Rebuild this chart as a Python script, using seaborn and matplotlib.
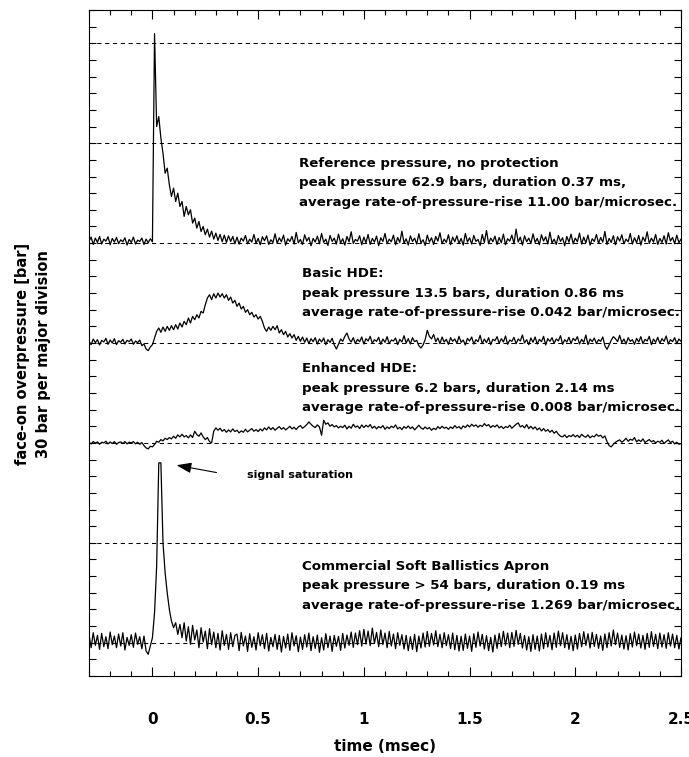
import numpy as np
import pandas as pd
import matplotlib
matplotlib.use("Agg")
import matplotlib.pyplot as plt
import seaborn as sns

# ---------------- data (bar above each trace's own baseline) ----------------
t_start, t_step, n_samples = -0.30, 0.01, 281   # time axis in ms

reference = [
    0.5, 1.8, -0.4, 1.5, 0.2, 2.0, -0.3, 1.2, 0.6, 1.9,
    -0.5, 1.4, 0.3, 1.7, -0.2, 1.0, 0.4, 1.6, -0.6, 1.1,
    0.2, 1.8, -0.3, 0.9, 0.5, 1.5, -0.4, 1.2, 0.1, 1.3,
    0.4, 62.9, 35.0, 38.0, 31.5, 27.0, 21.0, 22.5, 17.5, 14.0,
    16.5, 12.5, 15.0, 11.0, 12.5, 8.0, 11.0, 8.5, 10.0, 6.0,
    7.5, 4.5, 6.5, 3.5, 5.0, 2.5, 4.2, 1.8, 3.6, 1.2,
    3.0, 0.8, 2.6, 0.4, 2.4, 0.2, 2.2, 0.5, 2.0, -0.2,
    1.8, -0.3, 1.5, 0.6, 2.3, -0.2, 1.2, 0.3, 2.6, 0.0,
    1.4, -0.5, 1.9, 0.7, 2.2, -0.4, 1.0, 0.2, 2.8, -0.1,
    1.6, 0.4, 2.4, -0.6, 1.3, 0.5, 2.0, -0.3, 3.2, 0.1,
    1.1, -0.4, 2.5, 0.6, 1.7, -0.8, 1.4, 0.3, 2.1, -0.2,
    2.9, 0.2, 1.2, -0.7, 2.3, 0.5, 1.5, -0.3, 2.7, 0.0,
    1.3, -0.6, 2.0, 0.4, 3.4, -0.1, 1.1, 0.6, 2.2, -0.5,
    1.8, 0.1, 2.6, -0.4, 1.4, 0.3, 2.1, -0.8, 1.6, 0.5,
    2.9, -0.2, 1.2, 0.4, 2.4, -0.5, 1.7, 0.2, 3.6, 0.0,
    1.3, -0.6, 2.2, 0.5, 1.5, -0.3, 2.8, 0.1, 1.0, -0.7,
    2.4, 0.3, 1.6, -0.4, 2.0, 0.6, 3.1, -0.2, 1.2, 0.2,
    2.5, -0.5, 1.8, 0.4, 2.2, -0.1, 1.4, -0.6, 2.9, 0.3,
    1.6, -0.3, 2.3, 0.5, 1.1, -0.7, 2.6, 0.2, 3.8, -0.2,
    1.5, 0.4, 2.1, -0.4, 1.7, 0.1, 2.7, -0.5, 1.3, 0.6,
    2.4, -0.2, 4.2, 0.3, 1.8, -0.6, 2.2, 0.4, 1.5, -0.1,
    2.8, 0.2, 1.4, -0.5, 2.5, 0.6, 1.9, -0.3, 3.3, 0.0,
    1.2, -0.4, 2.3, 0.5, 1.6, -0.8, 2.0, 0.3, 2.7, -0.2,
    1.5, 0.4, 3.0, -0.3, 1.8, 0.1, 2.4, -0.6, 1.3, 0.5,
    2.6, -0.1, 1.7, 0.3, 3.5, -0.4, 1.4, 0.2, 2.2, -0.5,
    1.9, 0.6, 2.5, -0.2, 1.2, 0.4, 2.9, -0.3, 1.6, 0.1,
    2.3, -0.6, 1.8, 0.5, 3.4, -0.1, 1.5, 0.3, 2.6, -0.4,
    1.4, 0.2, 2.2, -0.3, 3.1, 0.6, 1.7, -0.2, 2.4, 0.1,
    1.2,
]

basic_hde = [
    0.6, -0.5, 1.2, 0.1, 1.0, -0.6, 0.8, 0.3, 1.4, -0.4,
    0.9, 0.0, 1.3, -0.5, 0.7, 0.2, 1.1, -0.3, 0.8, 0.4,
    1.2, -0.4, 0.6, 0.1, 0.9, -0.8, -0.3, -1.8, -2.3, -1.2,
    -0.5, 1.5, 3.5, 4.5, 3.2, 4.8, 3.5, 5.0, 3.8, 5.2,
    4.0, 5.5, 4.2, 6.0, 4.8, 6.5, 5.5, 7.5, 6.0, 8.0,
    7.0, 8.5, 7.5, 9.5, 9.0, 11.5, 13.5, 14.5, 13.0, 14.8,
    13.5, 15.0, 13.8, 14.8, 13.5, 14.5, 12.8, 13.8, 12.0, 12.8,
    11.0, 12.0, 10.2, 11.0, 9.2, 10.0, 8.5, 9.2, 7.8, 8.5,
    7.2, 8.0, 6.5, 4.5, 3.5, 4.8, 3.8, 5.0, 4.0, 5.2,
    3.0, 4.0, 2.5, 3.5, 1.8, 2.8, 1.5, 2.5, 0.8, 2.0,
    0.5, 1.8, 0.2, 1.5, -0.2, 1.3, 0.4, 1.6, -0.3, 1.2,
    0.3, 1.5, -0.5, 1.0, 0.2, 1.4, -0.6, -1.8, -0.4, 1.2,
    0.5, 2.0, 3.0, 1.2, 0.3, 1.6, -0.2, 1.1, 0.4, 1.8,
    -0.3, 1.3, 0.6, 2.0, -0.1, 1.0, 0.5, 1.7, -0.4, 1.2,
    0.2, 1.9, -0.2, 0.9, 0.6, 1.5, -0.5, 1.1, 0.3, 2.2,
    0.0, 1.3, -0.3, 1.6, 0.4, 0.8, -0.8, -1.5, -0.6, 1.0,
    3.8, 2.0, 1.2, 2.6, 0.4, 1.5, -0.2, 1.8, 0.3, 1.1,
    -0.4, 1.6, 0.5, 1.2, -0.1, 2.0, 0.2, 0.9, -0.6, 1.4,
    0.6, 1.8, -0.3, 1.0, 0.4, 2.3, -0.2, 1.2, 0.1, 1.6,
    -0.5, 1.1, 0.7, 1.9, -0.1, 1.3, 0.3, 2.1, -0.4, 0.9,
    0.5, 1.7, -0.2, 1.2, 0.6, 2.4, 0.0, 1.0, -0.5, 1.5,
    0.2, 1.8, -0.3, 1.1, 0.4, 2.0, -0.6, 1.3, 0.5, 1.6,
    -0.1, 1.2, 0.6, 2.2, -0.4, 1.0, 0.3, 1.7, -0.2, 1.4,
    0.7, 1.9, -0.3, 1.1, 0.2, 2.4, -0.5, 1.2, 0.4, 1.5,
    -0.2, 1.0, 0.5, 1.8, -0.8, -1.9, -0.6, 0.8, 1.9, 1.3,
    0.4, 2.3, 0.1, 1.2, -0.3, 1.6, 0.5, 1.0, -0.4, 1.4,
    0.3, 1.9, -0.2, 1.1, 0.6, 2.0, -0.5, 1.2, 0.2, 1.7,
    -0.1, 1.3, 0.5, 2.1, -0.3, 1.0, 0.4, 1.6, -0.2, 1.2,
    0.5,
]

enhanced_hde = [
    0.2, -0.3, 0.4, -0.1, 0.3, -0.4, 0.2, 0.0, 0.5, -0.3,
    0.3, -0.2, 0.4, -0.4, 0.1, 0.3, -0.2, 0.4, -0.3, 0.2,
    0.0, 0.4, -0.3, 0.2, -0.4, 0.1, -0.8, -1.5, -1.8, -1.0,
    -1.2, -0.5, 0.5, 0.2, 1.0, 0.6, 1.4, 1.0, 1.6, 1.2,
    2.0, 1.4, 2.4, 1.8, 2.6, 1.8, 2.2, 1.5, 2.4, 1.6,
    3.5, 2.5, 2.0, 3.0, 1.8, 1.0, 1.6, 0.4, 0.0, 3.5,
    4.5, 3.8, 4.4, 3.5, 4.0, 3.2, 3.9, 3.3, 4.2, 3.4,
    3.8, 3.0, 3.6, 3.2, 4.1, 3.3, 3.8, 4.3, 3.5, 4.0,
    3.4, 4.2, 3.6, 4.5, 3.9, 4.8, 4.0, 4.6, 3.8, 4.4,
    4.9, 4.1, 4.6, 3.9, 4.4, 5.0, 4.2, 4.7, 4.0, 4.8,
    5.2, 4.4, 4.9, 5.5, 6.3, 5.6, 5.0, 4.6, 5.4, 4.8,
    2.3, 6.8, 5.6, 6.0, 5.0, 5.5, 4.8, 5.2, 4.5, 5.0,
    4.6, 5.3, 4.2, 5.0, 4.4, 5.6, 4.7, 5.1, 4.3, 5.4,
    4.6, 5.3, 4.8, 5.5, 4.4, 5.0, 4.2, 4.9, 4.5, 5.2,
    4.1, 4.8, 4.3, 5.0, 4.6, 5.4, 4.2, 4.7, 4.0, 4.9,
    4.4, 5.1, 4.3, 4.8, 3.9, 4.6, 5.3, 4.5, 4.1, 4.8,
    4.2, 4.6, 3.8, 4.4, 4.0, 4.9, 4.3, 5.0, 4.4, 4.7,
    4.1, 4.8, 4.3, 5.2, 4.5, 4.9, 4.2, 5.1, 4.6, 5.4,
    4.8, 5.6, 5.0, 5.4, 4.7, 5.3, 4.9, 5.8, 5.1, 5.5,
    4.6, 5.2, 4.8, 5.4, 4.5, 5.0, 4.3, 4.9, 4.6, 5.3,
    4.4, 5.0, 5.6, 6.0, 4.8, 5.2, 4.5, 5.5, 4.3, 5.0,
    4.2, 4.8, 3.9, 4.5, 3.6, 4.3, 3.5, 4.0, 3.2, 3.8,
    2.9, 3.5, 2.6, 2.0, 1.8, 2.4, 1.6, 2.2, 1.9, 2.5,
    1.8, 2.3, 1.6, 2.6, 2.0, 1.7, 2.4, 1.5, 2.1, 1.8,
    2.6, 2.0, 2.3, 1.5, 2.1, 0.4, -0.8, -1.2, -0.4, 0.2,
    0.6, 0.9, 0.2, 0.7, 1.4, 0.5, 1.1, 0.8, 1.6, 0.3,
    0.9, 0.4, 1.2, 0.1, 0.6, 1.0, 0.3, 0.7, 0.0, 0.5,
    0.2, 0.8, -0.2, 0.4, 0.9, 0.1, 0.5, -0.3, 0.2, -0.4,
    -0.2,
]

commercial_apron = [
    2.5, -1.5, 3.0, -0.8, 2.2, -2.0, 2.8, -1.2, 1.8, -1.8,
    3.2, -0.6, 2.0, -1.5, 2.6, -1.0, 3.0, -2.2, 1.6, -0.8,
    2.4, -1.4, 2.9, -0.5, 1.8, -1.8, 2.0, -2.5, -3.5, -1.0,
    1.5, 9.0, 23.0, 54.0, 54.0, 30.0, 21.0, 15.0, 10.0, 6.5,
    4.5, 6.0, 2.5, 5.5, 1.5, 6.0, 0.5, 4.8, -0.5, 5.2,
    0.8, 3.8, -1.5, 4.5, 0.2, 3.5, -1.8, 4.2, -0.6, 3.2,
    -1.5, 2.8, -2.2, 3.6, -0.8, 2.5, -2.0, 3.0, -1.2, 2.2,
    2.6, -2.4, 3.1, -1.0, 2.0, -2.6, 2.7, -1.4, 1.8, -2.2,
    3.0, -0.9, 2.4, -1.8, 2.8, -2.5, 1.6, -1.2, 2.5, -2.0,
    2.2, -2.8, 1.9, -1.6, 2.6, -2.3, 3.0, -1.0, 2.1, -2.7,
    1.7, -2.0, 2.4, -1.3, 2.9, -2.4, 1.8, -1.7, 2.3, -2.9,
    1.5, -2.2, 2.7, -1.5, 2.0, -2.6, 2.2, -1.1, 1.9, -2.3,
    2.8, -1.6, 2.3, -0.8, 3.2, -1.4, 2.9, -0.6, 3.6, -1.0,
    4.0, -0.4, 3.5, -0.9, 4.4, -0.2, 3.1, -1.2, 3.8, -0.6,
    2.9, -1.5, 3.4, -1.0, 2.6, -1.8, 3.0, -0.8, 2.4, -1.9,
    2.2, -2.4, 1.8, -2.0, 2.5, -2.7, 2.0, -1.6, 2.9, -1.3,
    3.4, -1.1, 2.8, -0.7, 3.6, -1.2, 2.5, -1.5, 3.0, -0.9,
    2.4, -1.8, 2.9, -2.1, 2.2, -2.5, 1.9, -2.3, 2.6, -1.7,
    2.0, -2.6, 2.7, -1.4, 3.2, -1.0, 2.5, -1.9, 2.1, -2.4,
    1.6, -2.8, 2.3, -1.7, 2.8, -1.2, 3.4, -0.8, 2.9, -1.5,
    3.1, -1.1, 3.7, -0.5, 2.8, -1.6, 2.2, -2.2, 1.8, -2.6,
    2.4, -2.0, 2.0, -2.5, 2.6, -1.8, 3.0, -1.3, 2.2, -2.1,
    2.9, -1.4, 3.5, -0.9, 3.0, -1.5, 2.4, -2.0, 1.9, -2.4,
    2.3, -1.9, 2.8, -1.2, 3.3, -0.8, 2.7, -1.6, 3.1, -1.1,
    2.5, -1.7, 2.0, -2.3, 2.6, -1.5, 3.0, -1.0, 3.8, -0.6,
    2.9, -1.4, 2.3, -1.9, 2.1, -2.2, 2.7, -1.3, 3.2, -0.9,
    2.6, -1.6, 2.2, -2.0, 2.8, -1.4, 3.3, -1.1, 2.5, -1.8,
    2.9, -1.3, 2.4, -1.7, 3.0, -1.0, 2.6, -1.5, 2.2, -1.9,
    1.5,
]

trace_names = ["Reference", "Basic HDE", "Enhanced HDE", "Commercial apron"]
trace_values = [reference, basic_hde, enhanced_hde, commercial_apron]
baselines = [130, 100, 70, 10]          # stacking offset of each trace (bar)
dashed_levels = [190, 160, 130, 100, 70, 40, 10]

x_tick_values = [0, 0.5, 1, 1.5, 2, 2.5]
x_tick_labels = ["0", "0.5", "1", "1.5", "2", "2.5"]

annotations = [
    (0.695, 154.0, ["Reference pressure, no protection",
                    "peak pressure 62.9 bars, duration 0.37 ms,",
                    "average rate-of-pressure-rise 11.00 bar/microsec."]),
    (0.708, 120.8, ["Basic HDE:",
                    "peak pressure 13.5 bars, duration 0.86 ms",
                    "average rate-of-pressure-rise 0.042 bar/microsec."]),
    (0.708, 92.3, ["Enhanced HDE:",
                   "peak pressure 6.2 bars, duration 2.14 ms",
                   "average rate-of-pressure-rise 0.008 bar/microsec."]),
    (0.708, 33.0, ["Commercial Soft Ballistics Apron",
                   "peak pressure > 54 bars, duration 0.19 ms",
                   "average rate-of-pressure-rise 1.269 bar/microsec."]),
]
saturation_label = "signal saturation"

# ---------------- build long table ----------------
time = np.round(t_start + t_step * np.arange(n_samples), 3)
frames = []
for name, vals, base in zip(trace_names, trace_values, baselines):
    v = np.asarray(vals, dtype=float)
    frames.append(pd.DataFrame({"time": time, "pressure": v + base, "trace": name}))
df = pd.concat(frames, ignore_index=True)

# ---------------- plot ----------------
sns.set_style("ticks")
plt.rcParams["font.family"] = ["DejaVu Sans"]
plt.rcParams["font.weight"] = "bold"
plt.rcParams["text.color"] = "black"
plt.rcParams["axes.labelcolor"] = "black"
plt.rcParams["xtick.color"] = "black"
plt.rcParams["ytick.color"] = "black"

fig = plt.figure(figsize=(6.89, 7.57), dpi=100)
ax = fig.add_axes([89 / 689, 81 / 757, 592 / 689, 666 / 757])

for lvl in dashed_levels:
    ax.axhline(lvl, color="black", lw=0.75, ls=(0, (4, 3.5)), zorder=1)

for name in trace_names:
    sub = df[df["trace"] == name]
    sns.lineplot(data=sub, x="time", y="pressure", color="black", lw=0.9,
                 estimator=None, sort=False, ax=ax, zorder=3)

ax.set_xlim(-0.3, 2.5)
ax.set_ylim(0, 200)

ax.set_xticks(x_tick_values)
ax.set_xticklabels(x_tick_labels, fontsize=11, fontweight="bold", color="black")
ax.set_xticks(np.round(np.arange(-0.3, 2.501, 0.1), 2), minor=True)
ax.set_yticks(np.arange(0, 201, 5))
ax.set_yticklabels([])
ax.tick_params(axis="x", which="major", direction="in", top=True, bottom=True,
               length=6.5, width=0.8, pad=26, color="black", labelcolor="black")
ax.tick_params(axis="x", which="minor", direction="in", top=True, bottom=True,
               length=3.6, width=0.8, color="black")
ax.tick_params(axis="y", which="major", direction="in", left=True, right=True,
               length=5, width=0.8, color="black")
for sp in ax.spines.values():
    sp.set_linewidth(0.8)
    sp.set_color("black")
    sp.set_visible(True)

ax.set_xlabel("time (msec)", fontsize=11, fontweight="bold", color="black")
ax.xaxis.set_label_coords(0.5, (676 - 746.7) / 666)
ax.xaxis.label.set_va("center")
ax.set_ylabel("face-on overpressure [bar]\n30 bar per major division",
              fontsize=10.5, fontweight="bold", linespacing=1.45, color="black")
ax.yaxis.set_label_coords((33 - 89) / 592, (676 - 354) / 666)
ax.yaxis.label.set_va("center")
ax.yaxis.label.set_ha("center")

line_step = 5.85
for x0, y0, lines in annotations:
    for k, s in enumerate(lines):
        ax.text(x0, y0 - k * line_step, s, fontsize=9.6, fontweight="bold",
                ha="left", va="center", color="black", zorder=4, clip_on=False)

ax.annotate("", xy=(0.114, 63.3), xytext=(0.303, 61.1),
            arrowprops=dict(arrowstyle="-|>,head_length=0.9,head_width=0.32",
                            color="black", lw=0.8, shrinkA=0, shrinkB=0))
ax.text(0.446, 60.3, saturation_label, fontsize=8, fontweight="bold",
        va="center", ha="left", color="black")

fig.savefig("out.png", dpi=100)
